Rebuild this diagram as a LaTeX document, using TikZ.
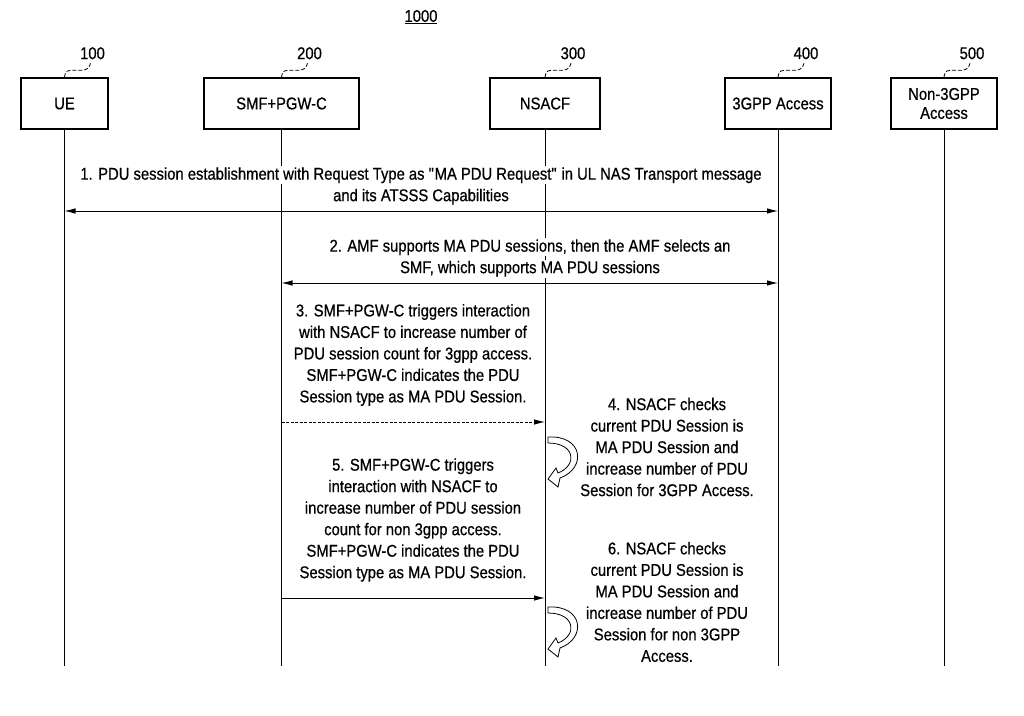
\documentclass[tikz,border=0pt]{standalone}
\usepackage{fontspec}
\setmainfont{Liberation Sans}[FakeStretch=0.87, FakeBold=0.6]
\usetikzlibrary{arrows.meta}
\newcommand\wl[1]{{\setlength{\fboxsep}{1pt}\colorbox{white}{#1}}}
\begin{document}
\begin{tikzpicture}[x=1pt,y=-1pt,
  every node/.style={font=\fontsize{17}{21.5}\selectfont, inner sep=1pt},
  actor/.style={draw, line width=1.5pt, minimum height=51pt, align=center, inner sep=0pt},
  life/.style={line width=0.9pt},
  msg/.style={line width=0.9pt},
  both/.style={msg, {Latex[length=11pt,width=5.5pt]}-{Latex[length=11pt,width=5.5pt]}},
  one/.style={msg, -{Latex[length=11pt,width=5.5pt]}},
  dmsg/.style={one, dash pattern=on 3pt off 1.5pt},
  txt/.style={align=center},
  numlab/.style={font=\fontsize{17}{18}\selectfont},
  lead/.style={line width=0.8pt, dash pattern=on 4pt off 2pt},
  selfloop/.pic={
    \draw[line width=0.8pt, fill=white]
      (3,-1) .. controls (38,-3) and (42,30) .. (15,40) -- (13,49) -- (3,41)
      -- (11,30) -- (13,35) .. controls (33,27) and (30,5) .. (3,5) -- cycle;
  },
  leader/.pic={
    \draw[lead] (0,0) .. controls (1,-7) and (3,-7) .. (10,-7) -- (17,-7)
      .. controls (23,-7) and (25,-10) .. (26,-14);
  }]
\useasboundingbox (0,0) rectangle (1024,715);

% title
\node (title) at (421,17) {\underline{1000}};

% actors
\node[actor, minimum width=87pt]  (ue)    at (64.5,103.5) {UE};
\node[actor, minimum width=155pt] (smf)   at (281.5,103.5) {SMF+PGW-C};
\node[actor, minimum width=110pt] (nsacf) at (545,103.5) {NSACF};
\node[actor, minimum width=106pt] (g3)    at (778,103.5) {3GPP Access};
\node[actor, minimum width=106pt, font=\fontsize{17}{19}\selectfont] (ng3) at (944,103.5) {Non-3GPP\\Access};

% reference numbers and leaders
\foreach \n/\t in {ue/100, smf/200, nsacf/300, g3/400, ng3/500}{
  \pic at (\n.north) {leader};
  \node[numlab] (lab\t) at ([shift={(28,-24)}]\n.north) {\t};
}

% lifeline ends
\coordinate (ueb)  at (ue.south |- 0,666);
\coordinate (smfb) at (smf.south |- 0,666);
\coordinate (nsb)  at (nsacf.south |- 0,666);
\coordinate (g3b)  at (g3.south |- 0,666);
\coordinate (ng3b) at (ng3.south |- 0,666);
\draw[life] (ue.south) -- (ueb);
\draw[life] (smf.south) -- (smfb);
\draw[life] (nsacf.south) -- (nsb);
\draw[life] (g3.south) -- (g3b);
\draw[life] (ng3.south) -- (ng3b);

% message texts
\node[txt] (m1) at (421,186) {\wl{1. PDU session establishment with Request Type as \textquotedbl MA PDU Request\textquotedbl{} in UL NAS Transport message}\\\wl{and its ATSSS Capabilities}};
\node[txt] (m2) at (530,258) {\wl{2. AMF supports MA PDU sessions, then the AMF selects an}\\\wl{SMF, which supports MA PDU sessions}};
\node[txt] (m3) at (413,355) {3. SMF+PGW-C triggers interaction\\with NSACF to increase number of\\PDU session count for 3gpp access.\\SMF+PGW-C indicates the PDU\\Session type as MA PDU Session.};
\node[txt] (m4) at (667,447) {4. NSACF checks\\current PDU Session is\\MA PDU Session and\\increase number of PDU\\Session for 3GPP Access.};
\node[txt] (m5) at (413,520) {5. SMF+PGW-C triggers\\interaction with NSACF to\\increase number of PDU session\\count for non 3gpp access.\\SMF+PGW-C indicates the PDU\\Session type as MA PDU Session.};
\node[txt] (m6) at (667,602) {6. NSACF checks\\current PDU Session is\\MA PDU Session and\\increase number of PDU\\Session for non 3GPP\\Access.};

% message arrows
\coordinate (a1l) at (ue.south |- 0,211);
\coordinate (a1r) at (g3.south |- 0,211);
\draw[both] (a1l) -- (a1r);
\coordinate (a2l) at (smf.south |- 0,283);
\coordinate (a2r) at (g3.south |- 0,283);
\draw[both] (a2l) -- (a2r);
\coordinate (a3l) at (smf.south |- 0,422);
\coordinate (a3r) at (nsacf.south |- 0,422);
\draw[dmsg] (a3l) -- (a3r);
\coordinate (a5l) at (smf.south |- 0,598);
\coordinate (a5r) at (nsacf.south |- 0,598);
\draw[one] (a5l) -- (a5r);

% self loops on NSACF
\coordinate (l4) at (nsacf.south |- 0,438);
\coordinate (l6) at (nsacf.south |- 0,608);
\pic at (l4) {selfloop};
\pic at (l6) {selfloop};
\end{tikzpicture}
\end{document}
